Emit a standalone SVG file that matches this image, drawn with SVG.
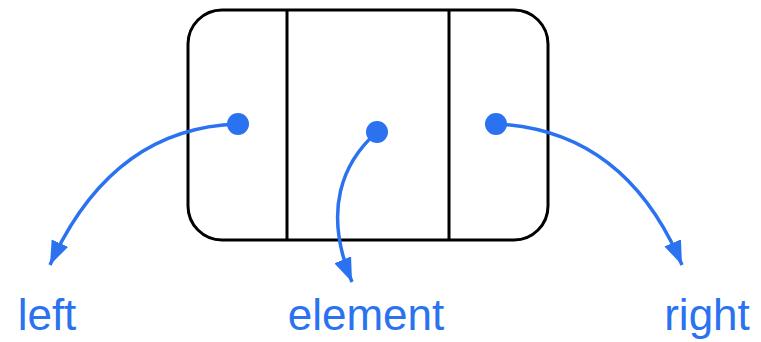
<svg xmlns="http://www.w3.org/2000/svg" width="761" height="342" viewBox="0 0 761 342">
<style>
.box{fill:#fff;stroke:#000;stroke-width:3}
.div{stroke:#000;stroke-width:3}
.dot{fill:#2a72f0}
.arr{fill:none;stroke:#2a72f0;stroke-width:3.5}
.lbl{font-family:"Liberation Sans",Arial,sans-serif;font-size:44px;fill:#2a72f0;text-anchor:middle}
</style>
<defs>
<marker id="ah" markerUnits="userSpaceOnUse" markerWidth="26" markerHeight="18" refX="24" refY="9" orient="auto" viewBox="0 0 26 18">
<path d="M0,0 L24,9 L0,18 z" fill="#2a72f0"/>
</marker>
</defs>
<g id="node">
<rect class="box" x="188" y="10" width="360" height="230" rx="34" ry="34"/>
<line class="div" x1="287" y1="10" x2="287" y2="240"/>
<line class="div" x1="449" y1="10" x2="449" y2="240"/>
</g>
<g id="connectors">
<path class="arr" d="M238,124 Q112,128 50,265" marker-end="url(#ah)"/>
<path class="arr" d="M377,132 C343,162 322,210 352,282" marker-end="url(#ah)"/>
<path class="arr" d="M496,124 Q625,130 682,265" marker-end="url(#ah)"/>
</g>
<g id="dots">
<circle class="dot" cx="238" cy="124" r="11"/>
<circle class="dot" cx="377" cy="132" r="11"/>
<circle class="dot" cx="496" cy="124" r="11"/>
</g>
<g id="labels">
<text class="lbl" x="47" y="330">left</text>
<text class="lbl" x="366" y="330">element</text>
<text class="lbl" x="707" y="330">right</text>
</g>
</svg>
